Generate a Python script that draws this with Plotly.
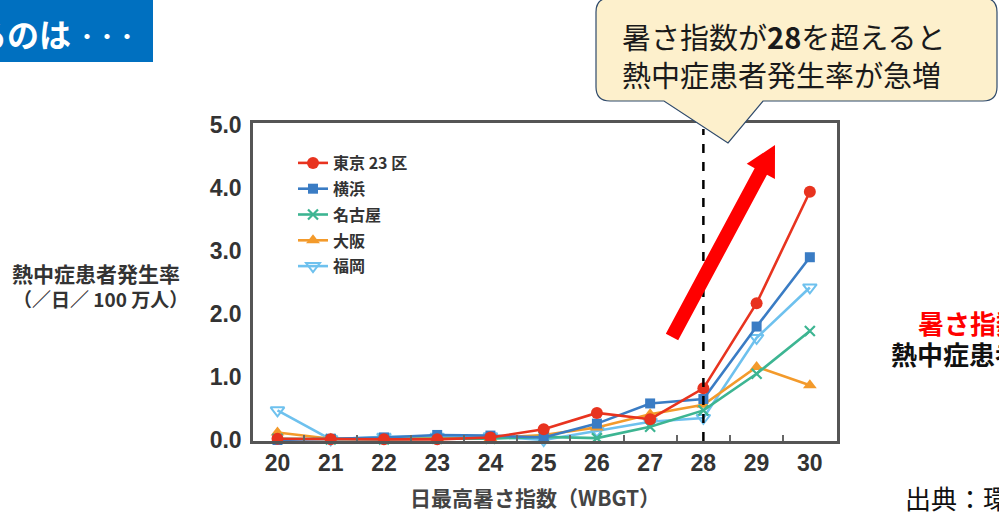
import math
import plotly.graph_objects as go

# 日最高暑さ指数（WBGT）
wbgt = [20, 21, 22, 23, 24, 25, 26, 27, 28, 29, 30]
wbgt_labels = ["20", "21", "22", "23", "24", "25", "26", "27", "28", "29", "30"]

# 熱中症患者発生率（／日／100万人）
tokyo = [0.02, 0.01, 0.01, 0.01, 0.04, 0.17, 0.43, 0.33, 0.82, 2.17, 3.94]
yokohama = [0.00, 0.02, 0.04, 0.08, 0.07, 0.04, 0.26, 0.58, 0.65, 1.80, 2.90]
nagoya = [0.02, 0.01, 0.01, 0.02, 0.02, 0.05, 0.03, 0.21, 0.47, 1.05, 1.73]
osaka = [0.12, 0.02, 0.02, 0.03, 0.03, 0.08, 0.20, 0.41, 0.56, 1.16, 0.87]
fukuoka = [0.47, 0.01, 0.05, 0.05, 0.06, 0.00, 0.15, 0.29, 0.35, 1.62, 2.42]

y_ticks = [0, 1, 2, 3, 4, 5]
y_tick_labels = ["0.0", "1.0", "2.0", "3.0", "4.0", "5.0"]
threshold = 28

W, H = 999, 513
L, R, T, B = 253, 837, 123, 441  # plot area edges in pixels
JP = "Noto Sans CJK JP"


def px(x):
    return (x - L) / (R - L)


def py(y):
    return (B - y) / (B - T)


def note(text, x, y, size, color, bold=False, xanchor="center", align="center"):
    font = dict(family=JP, size=size, color=color)
    if bold:
        font["weight"] = "bold"
    fig.add_annotation(text=text, xref="paper", yref="paper", x=px(x), y=py(y),
                       xanchor=xanchor, yanchor="middle", align=align,
                       showarrow=False, font=font)


series = [
    ("東京 23 区", tokyo, "#e8331f", dict(symbol="circle", size=12)),
    ("横浜", yokohama, "#3a7cc4", dict(symbol="square", size=10)),
    ("名古屋", nagoya, "#3db592", dict(symbol="x-thin", size=10, line=dict(width=2.2, color="#3db592"))),
    ("大阪", osaka, "#f39a2b", dict(symbol="triangle-up", size=12)),
    ("福岡", fukuoka, "#6ec1ee", dict(symbol="triangle-down-open", size=12, line=dict(width=2, color="#6ec1ee"))),
]

fig = go.Figure()
# draw from the last city to the first so 東京 ends up on top
for i, (name, vals, color, marker) in reversed(list(enumerate(series))):
    m = dict(color=color, **marker)
    fig.add_trace(go.Scatter(
        x=wbgt, y=vals, name=name, mode="lines+markers",
        line=dict(color=color, width=2.6), marker=m,
        cliponaxis=False, legendrank=i, legendgroup=name,
    ))

tick_font = dict(family="Liberation Sans, Arial, sans-serif", size=23, color="#333333", weight="bold")
fig.update_layout(
    width=W, height=H,
    margin=dict(l=L, r=W - R, t=T, b=H - B),
    paper_bgcolor="white", plot_bgcolor="white",
    showlegend=True,
    legend=dict(
        x=px(293), y=py(146), xanchor="left", yanchor="top",
        bgcolor="rgba(0,0,0,0)", traceorder="grouped", tracegroupgap=2,
        font=dict(family=JP, size=16, color="#333333", weight="bold"),
        itemwidth=30,
    ),
    xaxis=dict(
        range=[19.54, 30.51], tickvals=wbgt, ticktext=wbgt_labels,
        ticks="", showgrid=False, zeroline=False,
        showline=True, linecolor="#555555", linewidth=2.5, mirror=True,
        tickfont=tick_font,
        minor=dict(tickvals=[v + 0.5 for v in wbgt[:-1]], ticks="inside",
                   ticklen=6, tickwidth=1.5, tickcolor="#666666", showgrid=False),
    ),
    yaxis=dict(
        range=[-0.016, 5.03], tickvals=y_ticks, ticktext=y_tick_labels,
        ticks="", showgrid=False, zeroline=False,
        showline=True, linecolor="#555555", linewidth=2.5, mirror=True,
        tickfont=tick_font, ticklabelstandoff=4,
    ),
)

# WBGT 28 threshold
fig.add_shape(type="line", xref="x", yref="paper", x0=threshold, x1=threshold, y0=0, y1=py(129),
              line=dict(color="black", width=2.5, dash="dash"), layer="above")

# axis titles
note("熱中症患者発生率", 96, 273, 21, "#333333", bold=True)
note("（／日／ 100 万人）", 100, 298, 19, "#333333", bold=True)
note("日最高暑さ指数（WBGT）", 535, 497, 21, "#444444", bold=True)

# header banner
fig.add_shape(type="rect", xref="paper", yref="paper", x0=px(-5), x1=px(153), y0=py(62), y1=py(-5),
              fillcolor="#0070c0", line=dict(width=0), layer="above")
note("るのは", 73, 33, 32, "white", bold=True, xanchor="right")
note("・・・", 75, 35, 20, "white", bold=True, xanchor="left")

# callout bubble with pointer towards the threshold
cx0, cx1, cy0, cy1, r = 596, 997, -2, 101, 14
tip = (728, 143)
base_l, base_r = 664, 763
pts = [
    f"M{px(cx0 + r)},{py(cy0)}", f"L{px(cx1 - r)},{py(cy0)}",
    f"Q{px(cx1)},{py(cy0)} {px(cx1)},{py(cy0 + r)}",
    f"L{px(cx1)},{py(cy1 - r)}",
    f"Q{px(cx1)},{py(cy1)} {px(cx1 - r)},{py(cy1)}",
    f"L{px(base_r)},{py(cy1)}", f"L{px(tip[0])},{py(tip[1])}", f"L{px(base_l)},{py(cy1)}",
    f"L{px(cx0 + r)},{py(cy1)}",
    f"Q{px(cx0)},{py(cy1)} {px(cx0)},{py(cy1 - r)}",
    f"L{px(cx0)},{py(cy0 + r)}",
    f"Q{px(cx0)},{py(cy0)} {px(cx0 + r)},{py(cy0)}", "Z",
]
fig.add_shape(type="path", xref="paper", yref="paper", path=" ".join(pts),
              fillcolor="#fdf0cc", line=dict(color="#2f4a6b", width=1.2), layer="above")
note("暑さ指数が<b>28</b>を超えると<br>熱中症患者発生率が急増", 620, 55, 29, "#1a1a1a",
     xanchor="left", align="left")

# red rising arrow
tail, head = (672, 337), (775, 145)
dx, dy = head[0] - tail[0], head[1] - tail[1]
ln = math.hypot(dx, dy)
ux, uy = dx / ln, dy / ln
nx, ny = -uy, ux
sw, hw, hl = 7, 16, 30
hb = (head[0] - ux * hl, head[1] - uy * hl)
poly = [
    (tail[0] + nx * sw, tail[1] + ny * sw), (hb[0] + nx * sw, hb[1] + ny * sw),
    (hb[0] + nx * hw, hb[1] + ny * hw), head,
    (hb[0] - nx * hw, hb[1] - ny * hw), (hb[0] - nx * sw, hb[1] - ny * sw),
    (tail[0] - nx * sw, tail[1] - ny * sw),
]
path = "M" + " L".join(f"{px(a)},{py(b)}" for a, b in poly) + " Z"
fig.add_shape(type="path", xref="paper", yref="paper", path=path,
              fillcolor="#ff0000", line=dict(width=0), layer="above")

# side notes
note("暑さ指数28以上で", 916, 322, 26, "#ff0000", bold=True, xanchor="left", align="left")
note("熱中症患者が急増", 889, 353, 26, "#111111", bold=True, xanchor="left", align="left")
note("出典：環境省", 903, 497, 26, "#111111", xanchor="left", align="left")

fig.write_html("out.html")
